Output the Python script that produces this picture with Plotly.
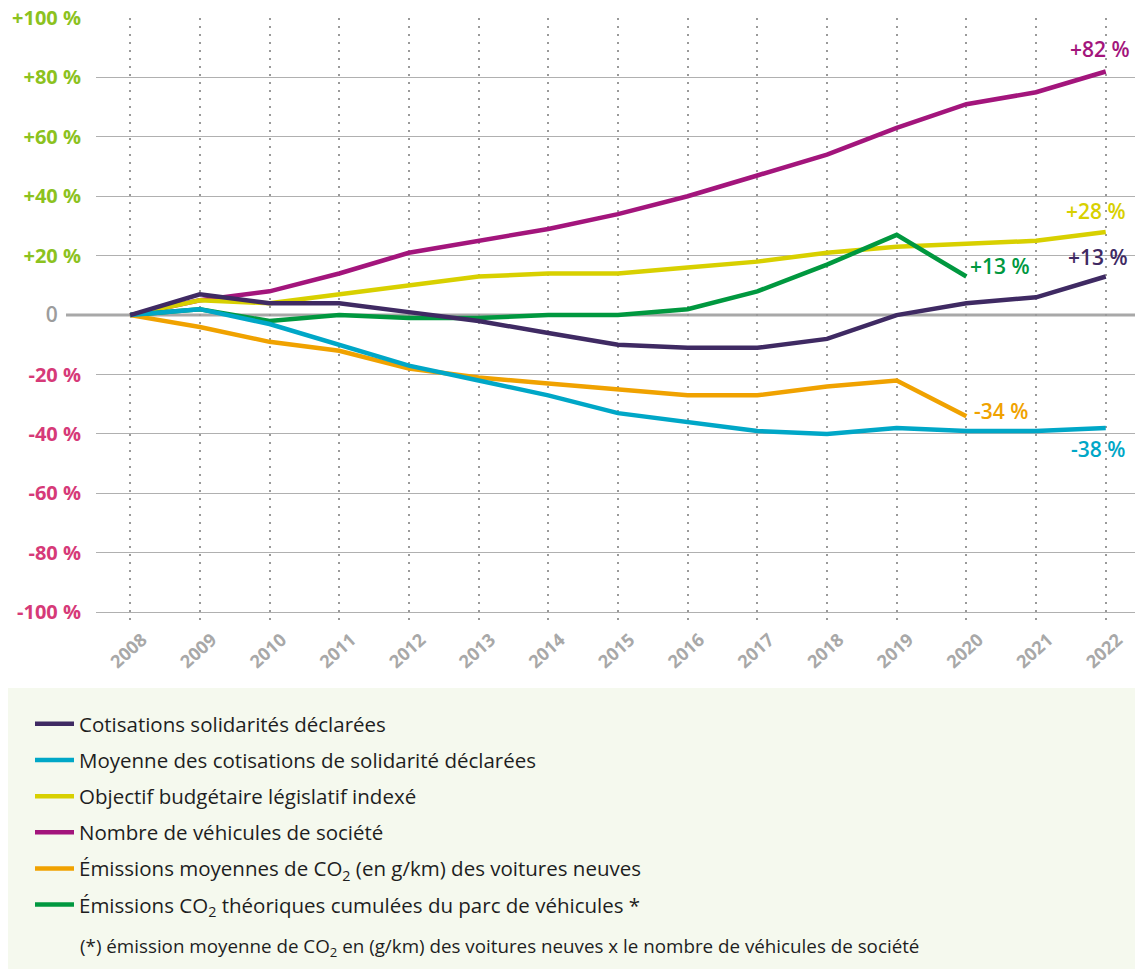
import plotly.graph_objects as go

years = list(range(2008, 2023))

cotisations = [0, 7, 4, 4, 1, -2, -6, -10, -11, -11, -8, 0, 4, 6, 13]
moyenne = [0, 2, -3, -10, -17, -22, -27, -33, -36, -39, -40, -38, -39, -39, -38]
objectif = [0, 5, 4, 7, 10, 13, 14, 14, 16, 18, 21, 23, 24, 25, 28]
nombre = [0, 5, 8, 14, 21, 25, 29, 34, 40, 47, 54, 63, 71, 75, 82]
emissions_moy = [0, -4, -9, -12, -18, -21, -23, -25, -27, -27, -24, -22, -34]
emissions_cum = [0, 2, -2, 0, -1, -1, 0, 0, 2, 8, 17, 27, 13]

names = [
    "Cotisations solidarités déclarées",
    "Moyenne des cotisations de solidarité déclarées",
    "Objectif budgétaire législatif indexé",
    "Nombre de véhicules de société",
    "Émissions moyennes de CO<sub>2</sub> (en g/km) des voitures neuves",
    "Émissions CO<sub>2</sub> théoriques cumulées du parc de véhicules *",
]
colors = ["#3f2a63", "#00a7c7", "#d8d000", "#a3157c", "#f0a200", "#00983f"]

ytick_pos_vals = [100, 80, 60, 40, 20]
ytick_pos_text = ["+100 %", "+80 %", "+60 %", "+40 %", "+20 %"]
ytick_neg_vals = [-20, -40, -60, -80, -100]
ytick_neg_text = ["-20 %", "-40 %", "-60 %", "-80 %", "-100 %"]
ytick_zero_vals = [0]
ytick_zero_text = ["0"]

footnote = "(*) émission moyenne de CO<sub>2</sub> en (g/km) des voitures neuves x le nombre de véhicules de société"

series = [cotisations, moyenne, objectif, nombre, emissions_moy, emissions_cum]

POS = "#8cc21e"
NEG = "#d63a78"
ZERO = "#9c9c9c"

W, H = 1135, 969
L, T, B = 96, 18, 344
PW, PH = W - L, H - T - B
PB = H - B  # plot bottom pixel
YR = [-104.3, 100]


def px(xpix):
    return (xpix - L) / PW


def py(ypix):
    return (PB - ypix) / PH


fig = go.Figure()

draw_order = [3, 2, 5, 4, 1, 0]
for i in draw_order:
    vals = series[i]
    fig.add_trace(go.Scatter(
        x=years[:len(vals)], y=vals, mode="lines", name=names[i],
        line=dict(color=colors[i], width=4.5),
        legendgroup=f"g{i}", legendrank=i + 1,
        hoverinfo="skip",
    ))

tickvals = ytick_pos_vals + ytick_neg_vals
ticktext = ([f"<span style='color:{POS}'>{t}</span>" for t in ytick_pos_text]
            + [f"<span style='color:{NEG}'>{t}</span>" for t in ytick_neg_text])

fig.update_layout(
    width=W, height=H,
    margin=dict(l=L, r=0, t=T, b=B),
    paper_bgcolor="white", plot_bgcolor="white",
    font=dict(family="Open Sans", color="#222"),
    xaxis=dict(
        range=[2007.51, 2022.42],
        tickvals=years, ticktext=[str(y) for y in years],
        tickangle=-42,
        tickfont=dict(family="Open Sans", size=18, color="#a8a8a8", weight="bold"),
        showgrid=True, gridcolor="#9a9a9a", griddash="2px,6px", gridwidth=2,
        zeroline=False, showline=False, ticks="",
        ticklabelshift=12, ticklabelstandoff=0,
        ticklabeloverflow="allow",
    ),
    yaxis=dict(
        range=YR,
        tickvals=tickvals, ticktext=ticktext,
        tickfont=dict(family="Open Sans", size=20, weight="bold"),
        showgrid=True, gridcolor="#b0b0b0", gridwidth=1.2,
        zeroline=False, showline=False,
        ticks="outside", ticklen=10, tickcolor="rgba(0,0,0,0)",
    ),
    yaxis2=dict(
        range=YR, overlaying="y", side="left", anchor="x",
        tickvals=ytick_zero_vals, ticktext=ytick_zero_text,
        tickfont=dict(family="Open Sans", size=21, color=ZERO, weight=600),
        showgrid=False, zeroline=False, showline=False,
        ticks="outside", ticklen=33, tickcolor="rgba(0,0,0,0)",
    ),
    showlegend=True,
    legend=dict(
        x=px(30), y=py(704), xref="paper", yref="paper",
        xanchor="left", yanchor="top",
        bgcolor="rgba(0,0,0,0)",
        font=dict(family="Open Sans", size=20.5, color="#1e1e1e"),
        traceorder="grouped", tracegroupgap=6.5,
        itemwidth=39,
    ),
    shapes=[
        dict(type="rect", xref="paper", yref="paper",
             x0=px(8), x1=1.0, y0=py(969), y1=py(688),
             fillcolor="#f5f9ee", line=dict(width=0), layer="below"),
        dict(type="line", xref="paper", yref="y",
             x0=px(66), x1=1.0, y0=0, y1=0,
             line=dict(color="#a8a8a8", width=3), layer="below"),
    ],
)

# invisible helper trace so the zero-tick axis is drawn
fig.add_trace(go.Scatter(x=[years[0]], y=[0], yaxis="y2", mode="markers",
                         marker=dict(opacity=0), showlegend=False, hoverinfo="skip"))

labels = [
    dict(x=2022, y=nombre[-1], text=f"+{nombre[-1]} %", color=colors[3], xshift=-6, yshift=22, xanchor="center"),
    dict(x=2022, y=objectif[-1], text=f"+{objectif[-1]} %", color=colors[2], xshift=-10, yshift=21, xanchor="center"),
    dict(x=2022, y=cotisations[-1], text=f"+{cotisations[-1]} %", color=colors[0], xshift=-8, yshift=19, xanchor="center"),
    dict(x=2020, y=emissions_cum[-1], text=f"+{emissions_cum[-1]} %", color=colors[5], xshift=2, yshift=10, xanchor="left"),
    dict(x=2020, y=emissions_moy[-1], text=f"{emissions_moy[-1]} %", color=colors[4], xshift=6, yshift=5, xanchor="left"),
    dict(x=2022, y=moyenne[-1], text=f"{moyenne[-1]} %", color=colors[1], xshift=-8, yshift=-21, xanchor="center"),
]
for lab in labels:
    fig.add_annotation(x=lab["x"], y=lab["y"], text=lab["text"], showarrow=False,
                       xanchor=lab["xanchor"], yanchor="middle",
                       xshift=lab["xshift"], yshift=lab["yshift"],
                       font=dict(family="Open Sans", size=21, color=lab["color"], weight=600))

fig.add_annotation(xref="paper", yref="paper", x=px(78), y=py(947),
                   text=footnote, showarrow=False, xanchor="left", yanchor="middle",
                   font=dict(family="Open Sans", size=18.8, color="#1e1e1e"))

fig.write_html("out.html")
